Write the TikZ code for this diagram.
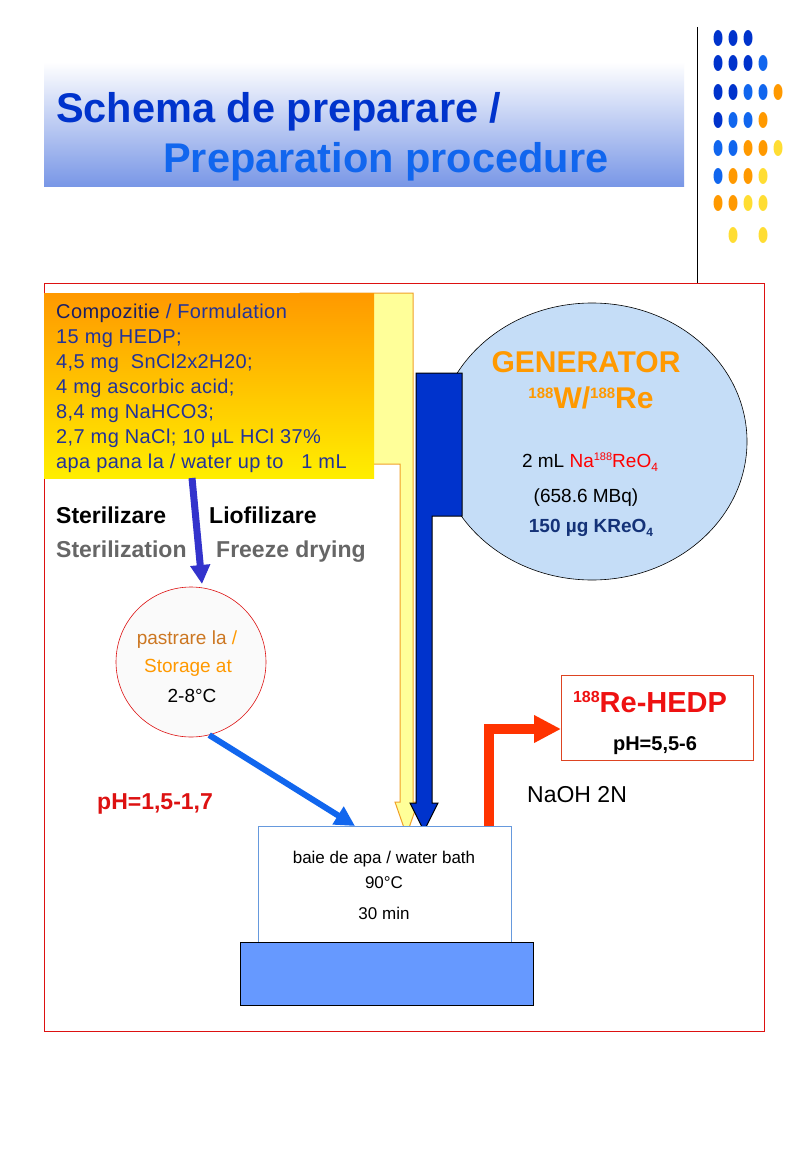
\documentclass[tikz,border=0pt]{standalone}
\usepackage{fontspec}
\setmainfont{Liberation Sans}
\newfontfamily\formfont[LetterSpace=2]{Liberation Sans}
\usetikzlibrary{arrows.meta,shapes.geometric}
\definecolor{framered}{RGB}{221,17,17}
\definecolor{titledark}{RGB}{0,51,204}
\definecolor{titlelight}{RGB}{17,102,238}
\definecolor{titleshade}{RGB}{120,150,230}
\definecolor{formtop}{RGB}{255,153,0}
\definecolor{formbot}{RGB}{255,238,0}
\definecolor{formdark}{RGB}{26,30,100}
\definecolor{formblue}{RGB}{34,51,153}
\definecolor{yelfill}{RGB}{255,255,153}
\definecolor{yeledge}{RGB}{240,160,40}
\definecolor{genfill}{RGB}{197,221,247}
\definecolor{genorange}{RGB}{255,153,0}
\definecolor{gennavy}{RGB}{20,50,120}
\definecolor{dkb}{RGB}{0,51,204}
\definecolor{ltb}{RGB}{17,102,238}
\definecolor{org}{RGB}{255,153,0}
\definecolor{ylw}{RGB}{255,221,51}
\definecolor{storebrown}{RGB}{204,119,34}
\definecolor{formarrowc}{RGB}{51,51,204}
\definecolor{storearrowc}{RGB}{17,102,238}
\definecolor{naohred}{RGB}{255,51,0}
\definecolor{resedge}{RGB}{221,68,34}
\definecolor{resred}{RGB}{238,17,17}
\definecolor{bathedge}{RGB}{102,153,221}
\definecolor{basefill}{RGB}{102,153,255}
\begin{document}
\begin{tikzpicture}[x=1pt,y=-1pt,
  txt/.style={inner sep=0pt, anchor=base west},
  ctxt/.style={inner sep=0pt, anchor=base},
  formtxt/.style={txt, font=\formfont\fontsize{20}{24}\selectfont, text=formblue},
  dotmark/.style={ellipse, minimum width=9pt, minimum height=16pt, inner sep=0pt},
  formarrow/.style={formarrowc, line width=7pt, -{Triangle[length=19pt,width=19pt]}},
  storearrow/.style={storearrowc, line width=6pt, -{Triangle[length=20pt,width=20pt]}},
  naoharrow/.style={naohred, line width=10pt, -{Triangle[length=27pt,width=26pt]}}]
	\useasboundingbox (0,0) rectangle (800,1155);
	\fill[white] (0,0) rectangle (800,1155);
	% title
	\shade[top color=white, bottom color=titleshade] (44,62) rectangle (684,187);
	\node[txt, font=\fontsize{41.5}{48}\selectfont\bfseries, text=titledark] (title1) at (56,123) {Schema de preparare /};
	\node[txt, font=\fontsize{41.5}{48}\selectfont\bfseries, text=titlelight] (title2) at (163,173) {Preparation procedure};
	\draw[line width=1pt] (697,27) -- (697,283);
	\foreach \yy/\cl in {38/{dkb,dkb,dkb}, 63/{dkb,dkb,dkb,ltb}, 92/{dkb,dkb,ltb,ltb,org},
	    120/{dkb,ltb,ltb,org}, 148/{ltb,ltb,org,org,ylw}, 176/{ltb,org,org,ylw},
	    203/{org,org,ylw,ylw}, 235/{none,ylw,none,ylw}}
	  \foreach \c [count=\k] in \cl
	    \node[dotmark, fill=\c] at (703+15*\k,\yy) {};
	% frame
	\draw[framered, line width=1pt] (44,284) rectangle (764,1031);
	% yellow bent arrow
	\filldraw[fill=yelfill, draw=yeledge, line width=1pt] (300,293) -- (413,293) -- (413,802) -- (418,802)
	  -- (406.5,835) -- (395,802) -- (400,802) -- (400,464) -- (300,464) -- cycle;
	% formulation
	\node[rectangle, top color=formtop, bottom color=formbot, minimum width=330pt, minimum height=185pt,
	  anchor=north west, inner sep=0pt] (formulation) at (44,293) {};
	\node[formtxt] (f1) at (56,318) {{\color{formdark}Compozitie} / Formulation};
	\node[formtxt] (f2) at (56,343) {15 mg HEDP;};
	\node[formtxt] (f3) at (56,368) {4,5 mg\ \ SnCl2x2H20;};
	\node[formtxt] (f4) at (56,393) {4 mg ascorbic acid;};
	\node[formtxt] (f5) at (56,418) {8,4 mg NaHCO3;};
	\node[formtxt] (f6) at (56,443) {2,7 mg NaCl; 10 µL HCl 37\%};
	\node[formtxt] (f7) at (56,468) {apa pana la / water up to\ \ \ 1 mL};
	\node[txt, font=\fontsize{23}{28}\selectfont\bfseries] (steril) at (56,523) {Sterilizare};
	\node[txt, font=\fontsize{23}{28}\selectfont\bfseries] (liof) at (209,523) {Liofilizare};
	\node[txt, font=\fontsize{23}{28}\selectfont\bfseries, text=black!60] (sterilen) at (56,557) {Sterilization};
	\node[txt, font=\fontsize{23}{28}\selectfont\bfseries, text=black!60] (liofen) at (216,557) {Freeze drying};
	% generator
	\node[ellipse, draw=black, fill=genfill, line width=0.6pt, minimum width=310pt, minimum height=277pt] (generator) at (592,441.5) {};
	\filldraw[fill=dkb, draw=black, line width=1pt] (416,373) -- (462,373) -- (462,516) -- (432,516) -- (432,803)
	  -- (438,803) -- (424,831) -- (410,803) -- (416,803) -- cycle;
	\node[ctxt, font=\fontsize{30}{34}\selectfont\bfseries, text=genorange] (gen1) at (586,372) {GENERATOR};
	\node[ctxt, font=\fontsize{30}{34}\selectfont\bfseries, text=genorange] (gen2) at (591,408)
	  {{\fontsize{15}{18}\selectfont\raisebox{10pt}{188}}W/{\fontsize{15}{18}\selectfont\raisebox{10pt}{188}}Re};
	\node[ctxt, font=\fontsize{19}{23}\selectfont] (gen3) at (590,467)
	  {2 mL {\color{red}Na{\fontsize{11}{13}\selectfont\raisebox{7pt}{188}}ReO{\fontsize{12}{14}\selectfont\raisebox{-4pt}{4}}}};
	\node[ctxt, font=\fontsize{19}{23}\selectfont] (gen4) at (586,502) {(658.6 MBq)};
	\node[ctxt, font=\fontsize{19}{23}\selectfont\bfseries, text=gennavy] (gen5) at (591,532)
	  {150 µg KReO{\fontsize{12}{14}\selectfont\raisebox{-4pt}{4}}};
	% storage
	\node[circle, draw=framered, fill=black!2, line width=0.6pt, minimum size=150pt] (storage) at (191,662) {};
	\node[ctxt, font=\fontsize{19}{23}\selectfont, text=storebrown] (st1) at (187,644) {pastrare la {\color{genorange}/}};
	\node[ctxt, font=\fontsize{19}{23}\selectfont, text=genorange] (st2) at (188,672) {Storage at};
	\node[ctxt, font=\fontsize{19}{23}\selectfont] (st3) at (192,702) {2-8°C};
	\node[txt, font=\fontsize{23}{28}\selectfont\bfseries, text=framered] (phlow) at (97,809) {pH=1,5-1,7};
	% water bath
	\node[rectangle, draw=bathedge, fill=white, line width=0.8pt, minimum width=253pt, minimum height=116pt,
	  anchor=north west] (bath) at (258,826) {};
	\node[rectangle, draw=black, fill=basefill, line width=1pt, minimum width=293pt, minimum height=63pt,
	  anchor=north west] (base) at (240,942) {};
	\node[ctxt, font=\fontsize{17}{20}\selectfont] (b1) at (384,863) {baie de apa / water bath};
	\node[ctxt, font=\fontsize{17}{20}\selectfont] (b2) at (384,888) {90°C};
	\node[ctxt, font=\fontsize{17}{20}\selectfont] (b3) at (384,919) {30 min};
	% result
	\node[rectangle, draw=resedge, fill=white, line width=1pt, minimum width=192pt, minimum height=85pt,
	  anchor=north west] (result) at (561,675) {};
	\node[ctxt, font=\fontsize{29}{34}\selectfont\bfseries, text=resred] (r1) at (650,712)
	  {{\fontsize{16}{19}\selectfont\raisebox{10pt}{188}}Re-HEDP};
	\node[ctxt, font=\fontsize{20}{24}\selectfont\bfseries] (r2) at (655,750) {pH=5,5-6};
	\node[txt, font=\fontsize{23}{28}\selectfont] (naoh) at (527,802) {NaOH 2N};
	% connectors
	\coordinate (fa) at (192,478);
	\coordinate (fb) at (202,584);
	\coordinate (sa) at (355,826);
	\coordinate (nb) at (489,826);
	\coordinate (rin) at (561,729);
	\draw[formarrow] (fa) -- (fb);
	\draw[storearrow] (storage.-76) -- (sa);
	\draw[naoharrow] (nb) |- (rin);
\end{tikzpicture}
\end{document}
